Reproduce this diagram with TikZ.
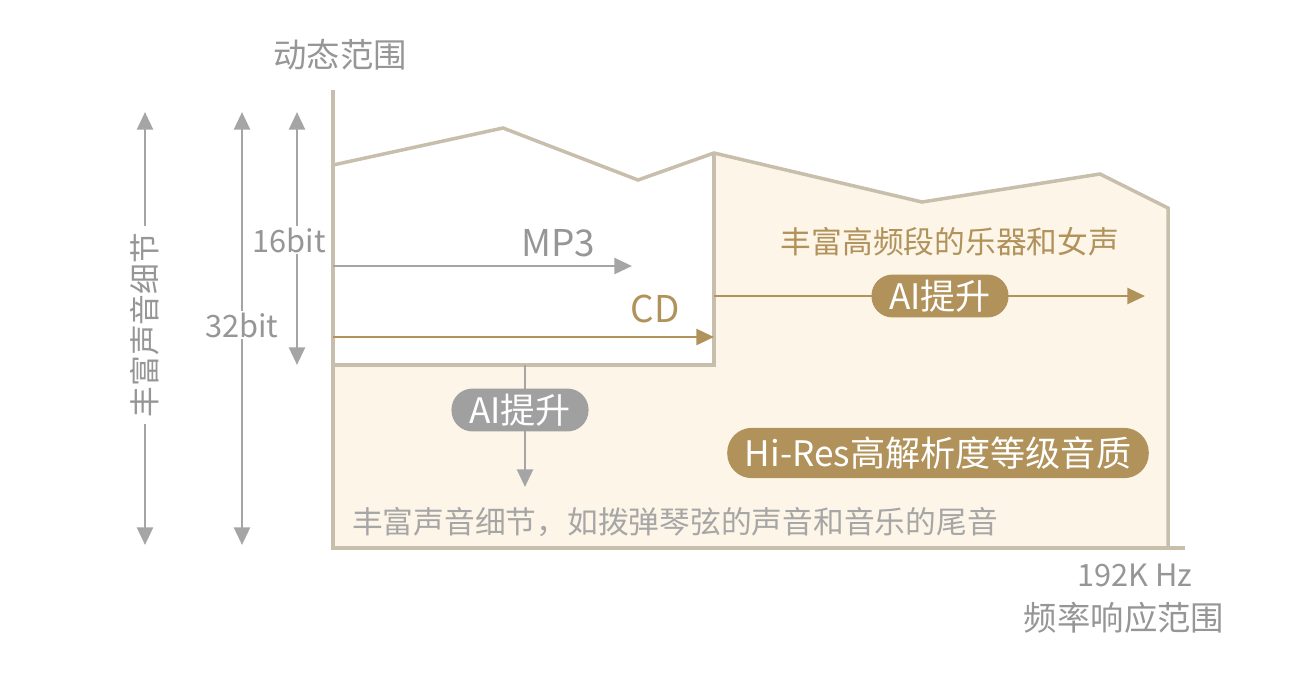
\documentclass[tikz,border=0pt]{standalone}
\usepackage{fontspec}
\setmainfont{Noto Sans CJK SC}
\usetikzlibrary{arrows.meta}
\definecolor{ax}{RGB}{200,190,172}
\definecolor{cream}{RGB}{253,246,232}
\definecolor{gold}{RGB}{176,146,90}
\definecolor{gtxt}{RGB}{150,150,150}
\definecolor{garr}{RGB}{165,165,165}
\definecolor{pillg}{RGB}{160,160,160}
\tikzset{
 lbl/.style={inner sep=1pt,font=\fontsize{17.5}{19}\selectfont},
 big/.style={inner sep=1pt,font=\fontsize{21}{23}\selectfont},
 pill/.style={rounded corners=12pt,text=white,inner xsep=10pt,inner ysep=3pt,font=\fontsize{20}{22}\selectfont},
 arr/.style={line width=1.6pt,-{Triangle[length=10pt,width=9pt]}},
 darr/.style={line width=1.6pt,{Triangle[length=10pt,width=9pt]}-{Triangle[length=10pt,width=9pt]},garr}
}
\begin{document}
\begin{tikzpicture}[x=0.02cm,y=-0.02cm]
\useasboundingbox (0,0) rectangle (1308,698);
\fill[cream] (333,365)--(714,365)--(714,153)--(922,202)--(1100,174)--(1168,208)--(1168,548)--(333,548)--cycle;
\draw[ax,line width=2pt] (333,165)--(503,128)--(638,180)--(714,153)--(922,202)--(1100,174)--(1168,208)--(1168,548);
\draw[ax,line width=2pt] (714,153)--(714,365)--(333,365);
\draw[ax,line width=2.5pt] (333,90)--(333,548)--(1185,548);
% left arrows
\coordinate (a1) at (145,112); \coordinate (a2) at (145,545);
\draw[darr] (a1)--(a2);
\node[lbl,fill=white,text=gtxt,rotate=90,inner sep=4pt] (lab) at (145,325) {丰富声音细节};
\coordinate (b1) at (242,112); \coordinate (b2) at (242,545);
\draw[darr] (b1)--(b2);
\coordinate (c1) at (297,112); \coordinate (c2) at (297,365);
\draw[darr] (c1)--(c2);
\node[lbl,fill=white,text=gtxt] (b16) at (289,240) {16bit};
\node[lbl,fill=white,text=gtxt] (b32) at (242,325) {32bit};
\node[lbl,text=gtxt,font=\fontsize{19}{21}\selectfont] (dyn) at (340,55) {动态范围};
% MP3
\coordinate (m1) at (333,266); \coordinate (m2) at (632,266);
\draw[arr,garr] (m1)--(m2);
\node[big,text=gtxt] (mp3) at (558,243) {MP3};
% CD
\coordinate (d1) at (333,337); \coordinate (d2) at (714,337);
\draw[arr,gold] (d1)--(d2);
\node[big,text=gold] (cd) at (655,309) {CD};
\coordinate (e1) at (714,296); \coordinate (e2) at (1145,296);
\draw[arr,gold] (e1)--(e2);
\node[pill,fill=gold] (ai1) at (940,296) {AI提升};
\node[lbl,text=gold] (hf) at (950,242) {丰富高频段的乐器和女声};
% gray AI
\coordinate (f1) at (525,365); \coordinate (f2) at (525,487);
\draw[arr,garr] (f1)--(f2);
\node[pill,fill=pillg] (ai2) at (520,410) {AI提升};
\node[pill,fill=gold,rounded corners=14pt,inner ysep=5pt] (hr) at (938,453) {Hi-Res高解析度等级音质};
\node[lbl,text=gtxt!85] (det) at (675,522) {丰富声音细节，如拨弹琴弦的声音和音乐的尾音};
\node[lbl,text=gtxt] (hz) at (1135,575) {192K Hz};
\node[lbl,text=gtxt,font=\fontsize{19}{21}\selectfont] (fr) at (1124,618) {频率响应范围};
\end{tikzpicture}
\end{document}
